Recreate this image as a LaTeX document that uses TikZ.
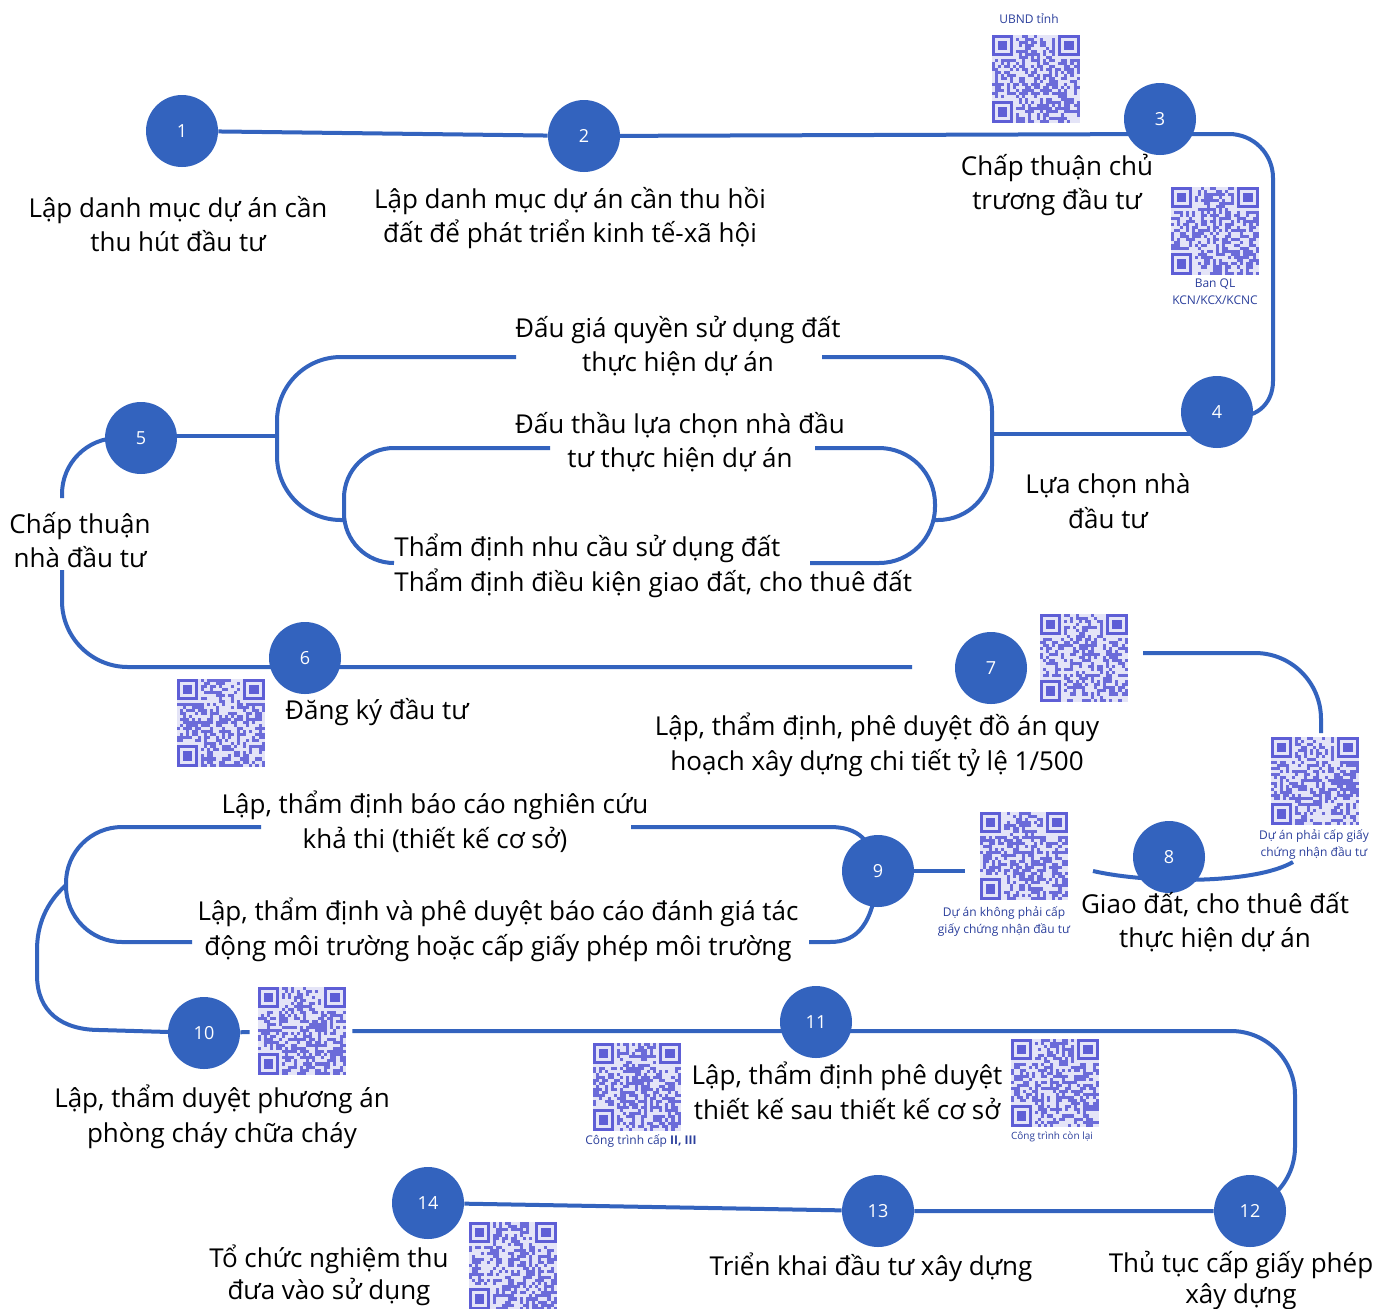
\documentclass[tikz,border=0pt]{standalone}
\usepackage{fontspec}
\setmainfont{Open Sans}
\usetikzlibrary{backgrounds}
\definecolor{stepblue}{HTML}{3363BE}
\definecolor{qrblue}{HTML}{5E5ED6}
\definecolor{qrpale}{HTML}{E4E4F7}
\definecolor{labelnavy}{HTML}{2B3F9C}

% QR-like pattern over a qrbox node
\newcommand{\qrfill}[2]{%
  \begin{scope}[shift={(#1.north west)}, x=1.517pt, y=-1.517pt]
    \pgfmathsetseed{#2}
    \foreach \qi in {0,...,28}{
      \foreach \qj in {0,...,28}{
        \pgfmathrandominteger{\qrbit}{0}{1}
        \ifnum\qrbit=1 \fill[qrblue, opacity=0.9] (\qi,\qj) rectangle ++(1,1);\fi
      }}
    \foreach \px/\py/\fx/\fy in {0/0/0/0, 21/0/22/0, 0/21/0/22}{
      \fill[qrpale] (\px,\py) rectangle ++(8,8);
      \draw[qrblue, line width=1.517pt] (\fx+0.5,\fy+0.5) rectangle ++(6,6);
      \fill[qrblue] (\fx+2,\fy+2) rectangle ++(3,3);
    }
  \end{scope}}

\begin{document}
\begin{tikzpicture}[x=0.5pt, y=-0.5pt,
  flow/.style={draw=stepblue, line width=2pt},
  stepdot/.style={circle, fill=stepblue, minimum size=36pt, inner sep=0pt, text=white, font=\fontsize{9}{10}\selectfont},
  steptext/.style={align=center, inner sep=0pt, font=\fontsize{13}{17.3}\selectfont},
  qrnote/.style={align=center, inner sep=0pt, text=labelnavy, font=\fontsize{6}{8.5}\selectfont},
  qrbox/.style={minimum size=44pt, inner sep=0pt, fill=qrpale}]
  \useasboundingbox (0,0) rectangle (1376,1308);

  % Steps
  \node[stepdot] (s1) at (182,131) {1};
  \node[stepdot] (s2) at (584,136) {2};
  \node[stepdot] (s3) at (1160,119) {3};
  \node[stepdot] (s4) at (1217,412) {4};
  \node[stepdot] (s5) at (141,438) {5};
  \node[stepdot] (s6) at (305,658) {6};
  \node[stepdot] (s7) at (991,668) {7};
  \node[stepdot] (s8) at (1169,857) {8};
  \node[stepdot] (s9) at (878,871) {9};
  \node[stepdot] (s10) at (204,1033) {10};
  \node[stepdot] (s11) at (816,1022) {11};
  \node[stepdot] (s12) at (1250,1211) {12};
  \node[stepdot] (s13) at (878,1211) {13};
  \node[stepdot] (s14) at (428,1203) {14};

  % QR codes
  \node[qrbox] (qr3a) at (1036,79) {};
  \node[qrbox] (qr3b) at (1215,231) {};
  \node[qrbox] (qr6) at (221,723) {};
  \node[qrbox] (qr7) at (1084,658) {};
  \node[qrbox] (qr8) at (1315,781) {};
  \node[qrbox] (qr9) at (1024,856) {};
  \node[qrbox] (qr10) at (302,1031) {};
  \node[qrbox] (qr11a) at (637,1087) {};
  \node[qrbox] (qr11b) at (1055,1083) {};
  \node[qrbox] (qr14) at (513,1266) {};
  \qrfill{qr3a}{11}
  \qrfill{qr3b}{23}
  \qrfill{qr6}{37}
  \qrfill{qr7}{41}
  \qrfill{qr8}{53}
  \qrfill{qr9}{67}
  \qrfill{qr10}{71}
  \qrfill{qr11a}{83}
  \qrfill{qr11b}{97}
  \qrfill{qr14}{101}

  % Labels
  \node[steptext] (t1) at (178,224) {Lập danh mục dự án cần\\thu hút đầu tư};
  \node[steptext] (t2) at (570,218) {Lập danh mục dự án cần thu hồi\\đất để phát triển kinh tế-xã hội};
  \node[steptext] (t3) at (1057,185) {Chấp thuận chủ\\trương đầu tư};
  \node[steptext] (t4) at (1108,501) {Lựa chọn nhà\\đầu tư};
  \node[steptext] (t5) at (80,540) {Chấp thuận\\nhà đầu tư};
  \node[steptext, anchor=west] (t6) at (285,712) {Đăng ký đầu tư};
  \node[steptext] (t7) at (877,745) {Lập, thẩm định, phê duyệt đồ án quy\\hoạch xây dựng chi tiết tỷ lệ 1/500};
  \node[steptext] (t8) at (1215,922) {Giao đất, cho thuê đất\\thực hiện dự án};
  \node[steptext] (tauct) at (678,346) {Đấu giá quyền sử dụng đất\\thực hiện dự án};
  \node[steptext] (tbid) at (680,442) {Đấu thầu lựa chọn nhà đầu\\tư thực hiện dự án};
  \node[steptext, align=left, anchor=west] (tland) at (394,566) {Thẩm định nhu cầu sử dụng đất\\Thẩm định điều kiện giao đất, cho thuê đất};
  \node[steptext] (tfeas) at (435,822) {Lập, thẩm định báo cáo nghiên cứu\\khả thi (thiết kế cơ sở)};
  \node[steptext] (tenv) at (498,930) {Lập, thẩm định và phê duyệt báo cáo đánh giá tác\\động môi trường hoặc cấp giấy phép môi trường};
  \node[steptext] (t10) at (222,1117) {Lập, thẩm duyệt phương án\\phòng cháy chữa cháy};
  \node[steptext] (t11) at (847,1091) {Lập, thẩm định phê duyệt\\thiết kế sau thiết kế cơ sở};
  \node[steptext, font=\fontsize{13}{15.5}\selectfont] (t12) at (1241,1280) {Thủ tục cấp giấy phép\\xây dựng};
  \node[steptext] (t13) at (871,1267) {Triển khai đầu tư xây dựng};
  \node[steptext, font=\fontsize{13}{16}\selectfont] (t14) at (329,1275) {Tổ chức nghiệm thu\\đưa vào sử dụng};

  % QR notes
  \node[qrnote] (n3a) at (1029,19) {UBND tỉnh};
  \node[qrnote] (n3b) at (1215,292) {Ban QL\\KCN/KCX/KCNC};
  \node[qrnote] (n8) at (1314,845) {Dự án phải cấp giấy\\chứng nhận đầu tư};
  \node[qrnote] (n9) at (1004,922) {Dự án không phải cấp\\giấy chứng nhận đầu tư};
  \node[qrnote] (n11a) at (641,1141) {Công trình cấp \textbf{II, III}};
  \node[qrnote, font=\fontsize{5}{6}\selectfont] (n11b) at (1052,1137) {Công trình còn lại};

  % Free ends and joins
  \coordinate (jl) at (277,436);
  \coordinate (jr) at (992,434);
  \coordinate (jl2) at (344,520);
  \coordinate (jr2) at (935,520);
  \coordinate (ml1) at (516,357);
  \coordinate (ml2) at (822,357);
  \coordinate (il1) at (550,448);
  \coordinate (il2) at (815,448);
  \coordinate (il3) at (394,563);
  \coordinate (il4) at (810,563);
  \coordinate (c5a) at (62,498);
  \coordinate (c5b) at (62,570);
  \coordinate (c6) at (912,667);
  \coordinate (c7a) at (1143,653);
  \coordinate (c7b) at (1321,733);
  \coordinate (c8a) at (1093,871);
  \coordinate (c8b) at (1293,862);
  \coordinate (c9) at (965,871);
  \coordinate (c9a) at (261,827);
  \coordinate (c9b) at (192,942);
  \coordinate (c9c) at (631,827);
  \coordinate (c9d) at (809,942);
  \coordinate (c9e) at (66,885);

  \begin{scope}[on background layer]
    \fill[white] (0,0) rectangle (1376,1308);
    % Row 1
    \draw[flow] (s1) -- (s2);
    \draw[flow] (s2.center) -- (s3 |- 0,134);
    \draw[flow, rounded corners=22pt] (s3 |- 0,134) -- (1273,134) -- (1273,425) -- (s4.center);
    % Two loops between 4 and 5
    \draw[flow] (s4 |- jr) -- (jr);
    \draw[flow] (s5 |- jl) -- (jl);
    \draw[flow, rounded corners=32pt] (jl2) -- (277,520) -- (277,357) -- (ml1);
    \draw[flow, rounded corners=27pt] (ml2) -- (992,357) -- (992,520) -- (jr2);
    \draw[flow, rounded corners=25pt] (il1) -- (344,448) -- (344,563) -- (il3);
    \draw[flow, rounded corners=28pt] (il2) -- (935,448) -- (935,563) -- (il4);
    % 5 to 7
    \draw[flow, rounded corners=28pt] (s5.center) -- (62,438) -- (c5a);
    \draw[flow, rounded corners=33pt] (c5b) -- (62,667) -- (s6 |- c6) -- (c6);
    \draw[flow, rounded corners=33pt] (c7a) -- (1321,653) -- (c7b);
    \draw[flow] (c8a) .. controls (1150,884) and (1255,884) .. (c8b);
    % Loop at 9
    \draw[flow] (s9) -- (c9);
    \draw[flow, rounded corners=28pt] (c9a) -- (66,827) -- (66,942) -- (c9b);
    \draw[flow] (c9c) -- (830,827) .. controls (858,827) and (872,840) .. (s9.center);
    \draw[flow] (c9d) -- (830,942) .. controls (857,942) and (874,925) .. (s9.center);
    \draw[flow] (c9e) .. controls (46,903) and (37,925) .. (37,950) -- (37,975)
      .. controls (37,1012) and (62,1030) .. (100,1030) -- (s10.center);
    % 10 to 14
    \draw[flow, shorten >=4pt] (s10) -- (qr10);
    \draw[flow, shorten <=3pt, rounded corners=32pt] (qr10) -- (s11 |- qr10) -- (1295,1031) -- (1295,1211) -- (s12.center);
    \draw[flow] (s12) -- (s13) -- (s14);
  \end{scope}
\end{tikzpicture}
\end{document}
